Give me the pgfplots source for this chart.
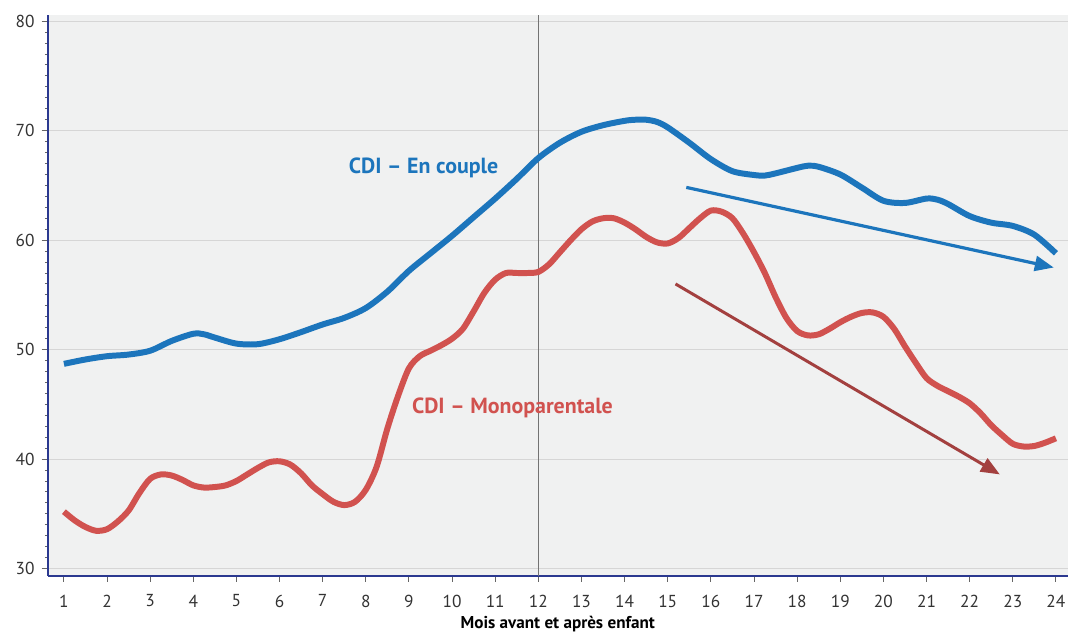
\documentclass[border=0pt]{standalone}
\usepackage{pgfplots}
\pgfplotsset{compat=1.18}
\usepackage{fontspec}
\setmainfont{PT Sans}
\usetikzlibrary{arrows.meta}
\definecolor{cblue}{HTML}{1C75BC}
\definecolor{cred}{HTML}{D1524F}
\definecolor{cdred}{HTML}{A3403F}
\definecolor{caxis}{HTML}{2B3990}
\definecolor{cbg}{HTML}{F0F1F1}
\definecolor{cgrid}{HTML}{D6D6D6}
\definecolor{ctext}{HTML}{333333}
\begin{document}
\begin{tikzpicture}
\begin{axis}[
  name=ax,
  scale only axis,
  width=512.2pt, height=281.6pt,
  xmin=0.62, xmax=24.28,
  ymin=29.35, ymax=80.6,
  axis background/.style={fill=cbg},
  axis x line*=bottom, axis y line*=left,
  axis line style={caxis, line width=1pt},
  every outer x axis line/.append style={-},
  every outer y axis line/.append style={-},
  xtick={1,...,24},
  ytick={30,40,...,80},
  minor y tick num=9,
  tick align=outside,
  major tick length=3pt, minor tick length=1.3pt,
  tick style={color=gray!80!black, line width=0.5pt},
  ymajorgrids, grid style={cgrid, line width=0.6pt},
  tick label style={font=\fontsize{8.7}{10}\selectfont, text=ctext},
  xticklabel style={yshift=-3pt},
  /pgf/number format/assume math mode=true,
  xlabel={\textbf{Mois avant et après enfant}},
  xlabel style={font=\fontsize{8.6}{10}\selectfont, text=black, yshift=2.5pt},
  clip=false,
]
\draw[gray!90!black, line width=0.5pt] (axis cs:12,29.35) -- (axis cs:12,80.6);
\addplot[cblue, line width=3pt, smooth, tension=0.5] coordinates {
(1,48.7)(1.5,49.1)(2,49.4)(2.5,49.55)(3,49.9)(3.5,50.8)(4,51.45)(4.25,51.4)(4.5,51.1)
(5,50.55)(5.5,50.5)(6,50.95)(6.5,51.6)(7,52.3)(7.5,52.9)(8,53.8)(8.5,55.3)(9,57.2)
(9.5,58.8)(10,60.4)(10.5,62.1)(11,63.8)(11.5,65.6)(12,67.5)(12.5,68.9)(13,69.9)
(13.5,70.5)(14,70.9)(14.25,71.0)(14.5,71.0)(14.75,70.8)(15,70.3)(15.5,68.9)(16,67.4)
(16.5,66.3)(17,65.95)(17.25,65.9)(17.5,66.1)(18,66.6)(18.25,66.8)(18.5,66.7)(19,66.0)
(19.5,64.8)(20,63.6)(20.5,63.4)(21,63.8)(21.25,63.7)(21.5,63.3)(22,62.2)(22.5,61.6)
(23,61.3)(23.5,60.5)(24,58.8)
};
\addplot[cred, line width=3pt, smooth, tension=0.5] coordinates {
(1,35.2)(1.25,34.4)(1.5,33.8)(1.75,33.45)(2,33.6)(2.25,34.3)(2.5,35.3)(2.75,36.9)
(3,38.2)(3.25,38.6)(3.5,38.5)(3.75,38.1)(4,37.6)(4.25,37.4)(4.5,37.45)(4.75,37.6)
(5,38.0)(5.25,38.6)(5.5,39.2)(5.75,39.7)(6,39.8)(6.25,39.5)(6.5,38.7)(6.75,37.6)
(7,36.8)(7.25,36.1)(7.5,35.8)(7.75,36.1)(8,37.2)(8.25,39.3)(8.5,42.8)(8.75,45.8)
(9,48.3)(9.25,49.4)(9.5,49.9)(9.75,50.4)(10,51.0)(10.25,51.9)(10.5,53.5)(10.75,55.2)
(11,56.4)(11.25,57.0)(11.5,57.0)(11.75,57.0)(12,57.1)(12.25,57.8)(12.5,58.9)(12.75,60.0)
(13,61.0)(13.25,61.7)(13.5,62.0)(13.75,62.0)(14,61.6)(14.25,61.0)(14.5,60.3)(14.75,59.8)
(15,59.7)(15.25,60.2)(15.5,61.1)(15.75,62.0)(16,62.7)(16.25,62.6)(16.5,62.0)(16.75,60.6)
(17,58.9)(17.25,57.0)(17.5,54.8)(17.75,52.9)(18,51.7)(18.25,51.3)(18.5,51.4)(18.75,51.9)
(19,52.5)(19.25,53.0)(19.5,53.35)(19.75,53.4)(20,53.0)(20.25,51.9)(20.5,50.3)(20.75,48.8)
(21,47.4)(21.25,46.7)(21.5,46.2)(21.75,45.7)(22,45.1)(22.25,44.2)(22.5,43.1)(22.75,42.2)
(23,41.4)(23.25,41.15)(23.5,41.2)(23.75,41.5)(24,41.9)
};
\draw[cblue, line width=1.6pt, -{Triangle[length=9.5pt,width=7.5pt]}] (axis cs:15.43,64.82) -- (axis cs:23.95,57.5);
\draw[cdred, line width=1.5pt, -{Triangle[length=9.5pt,width=7.5pt]}] (axis cs:15.18,56.0) -- (axis cs:22.7,38.6);
\node[text=cblue, font=\fontsize{11}{13}\selectfont\bfseries] at (axis cs:9.34,66.6) {CDI – En couple};
\node[text=cred, font=\fontsize{11}{13}\selectfont\bfseries] at (axis cs:11.4,44.7) {CDI – Monoparentale};
\end{axis}
\path ([shift={(-23.85pt,-29pt)}]ax.south west) rectangle ([shift={(0pt,7.35pt)}]ax.north east);
\end{tikzpicture}
\end{document}
